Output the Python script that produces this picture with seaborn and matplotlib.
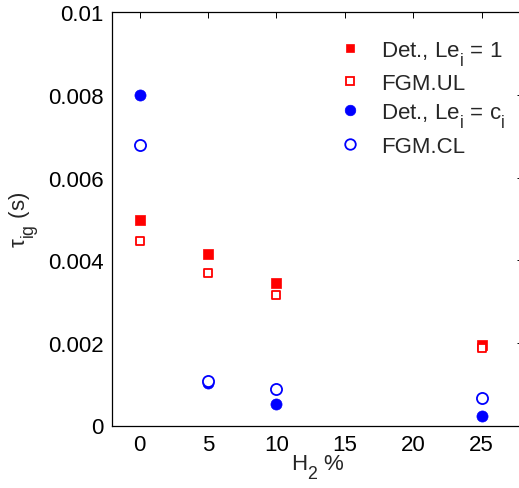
import matplotlib
matplotlib.use("Agg")
import matplotlib.pyplot as plt
import matplotlib._mathtext as _mt
import seaborn as sns
import pandas as pd
from matplotlib.lines import Line2D

h2 = [0, 5, 10, 25]
det_le1 = [0.00497, 0.00414, 0.00344, 0.00195]
fgm_ul = [0.00447, 0.00369, 0.00317, 0.00188]
det_leci = [0.00800, 0.00103, 0.00051, 0.00023]
fgm_cl = [0.00679, 0.00108, 0.00088, 0.00067]

labels = ["Det., Le$_\\mathrm{i}$ = 1", "FGM.UL",
          "Det., Le$_\\mathrm{i}$ = c$_\\mathrm{i}$", "FGM.CL"]
xticks = [0, 5, 10, 15, 20, 25]
yticks = [0, 0.002, 0.004, 0.006, 0.008, 0.01]
yticklabels = ["0", "0.002", "0.004", "0.006", "0.008", "0.01"]

# lower, MATLAB-like subscripts
_mt.FontConstantsBase.sub1 = 0.75
_mt.FontConstantsBase.subdrop = 0.6
_mt.SHRINK_FACTOR = 0.8

sns.set_style("white")
plt.rcParams["font.family"] = ["Liberation Sans", "DejaVu Sans"]
plt.rcParams["mathtext.fontset"] = "custom"
plt.rcParams["mathtext.rm"] = "Liberation Sans"
plt.rcParams["mathtext.it"] = "Liberation Sans:italic"

fig = plt.figure(figsize=(5.19, 4.89), dpi=100)
W, H = 519, 489
left, right, top, bottom = 112.3, 522.7, 13.3, 426.5
ax = fig.add_axes([left / W, 1 - bottom / H, (right - left) / W, (bottom - top) / H])

red = (1, 0, 0)
blue = (0, 0, 1)
series = [
    (det_le1, "s", red, red, 6.5, 0.5),
    (fgm_ul, "s", "white", red, 6.3, 1.3),
    (det_leci, "o", blue, blue, 8.0, 0.5),
    (fgm_cl, "o", "white", blue, 8.0, 1.3),
]
handles = []
for (vals, mk, fc, ec, ms, lw), lab in zip(series, labels):
    df = pd.DataFrame({"x": h2, "y": vals})
    sns.scatterplot(data=df, x="x", y="y", ax=ax, marker=mk, s=ms ** 2,
                    facecolor=fc, edgecolor=ec, linewidth=lw, zorder=3)
    handles.append(Line2D([], [], linestyle="none", marker=mk, markersize=ms * 0.95,
                          markerfacecolor=fc, markeredgecolor=ec,
                          markeredgewidth=lw, label=lab))

ax.set_xlim(-2, 28)
ax.set_ylim(0, 0.01)
ax.set_xticks(xticks)
ax.set_xticklabels([str(t) for t in xticks])
ax.set_yticks(yticks)
ax.set_yticklabels(yticklabels)
ax.tick_params(direction="in", length=4, width=0.7, top=True, right=True,
               labelsize=16, pad=6, colors="black")
for s in ax.spines.values():
    s.set_linewidth(0.9)
    s.set_color("black")

ax.set_xlabel("H$_\\mathrm{2}$ %", fontsize=16, labelpad=-2)
ax.set_ylabel("τ$_\\mathrm{ig}$ (s)", fontsize=16, labelpad=6)

leg = ax.legend(handles=handles, loc="upper left", bbox_to_anchor=(0.530, 0.958),
                frameon=False, fontsize=16, handlelength=1.0, handletextpad=0.9,
                labelspacing=0.3, borderaxespad=0)

fig.savefig("out.png", dpi=100)
